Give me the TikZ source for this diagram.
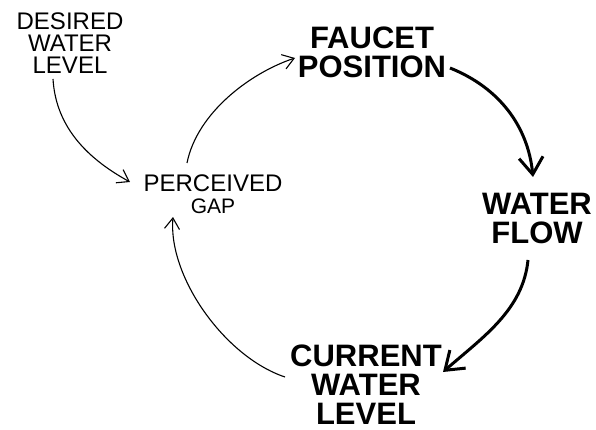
\documentclass[tikz,border=0pt]{standalone}
\usepackage{fontspec}
\setmainfont{Liberation Sans}
\usetikzlibrary{arrows.meta}
\tikzset{
  thinlabel/.style={inner sep=0pt, align=center, font=\fontsize{24}{22}\selectfont},
  boldlabel/.style={inner sep=0pt, align=center, font=\fontsize{31}{29}\selectfont\bfseries},
  thinarrow/.style={line width=1.1pt, -{Straight Barb[length=11pt,width=15pt,line width=1.1pt]}},
  thickarrow/.style={line width=3pt, -{Straight Barb[length=17pt,width=24pt,line width=3pt]}}
}
\begin{document}
\begin{tikzpicture}[x=1pt,y=-1pt]
\useasboundingbox (0,0) rectangle (596,430);
\node[thinlabel] (desired) at (70,43) {DESIRED\\WATER\\LEVEL};
\node[thinlabel] (gap) at (213,194) {PERCEIVED\\{\fontsize{21}{18}\selectfont GAP}};
\node[boldlabel] (faucet) at (372,52) {FAUCET\\POSITION};
\node[boldlabel] (flow) at (537,218) {WATER\\FLOW};
\node[boldlabel] (current) at (366,385) {CURRENT\\WATER\\LEVEL};
\draw[thinarrow] ([shift={(-17,36)}]desired.center) .. controls +(3,50) and +(-40,-22) .. ([shift={(-83,-12)}]gap.center);
\draw[thinarrow] ([shift={(-26,-31)}]gap.center) .. controls +(10,-50) and +(-45,15) .. ([shift={(-77,6)}]faucet.center);
\draw[thickarrow] ([shift={(78,16)}]faucet.center) .. controls +(50,20) and +(-5,-50) .. ([shift={(-4,-41)}]flow.center);
\draw[thickarrow] ([shift={(-9,42)}]flow.center) .. controls +(-5,50) and +(40,-35) .. ([shift={(77,-13)}]current.center);
\draw[thinarrow] ([shift={(-81,-8)}]current.center) .. controls +(-60,-20) and +(-5,60) .. ([shift={(-40,23)}]gap.center);
\end{tikzpicture}
\end{document}
